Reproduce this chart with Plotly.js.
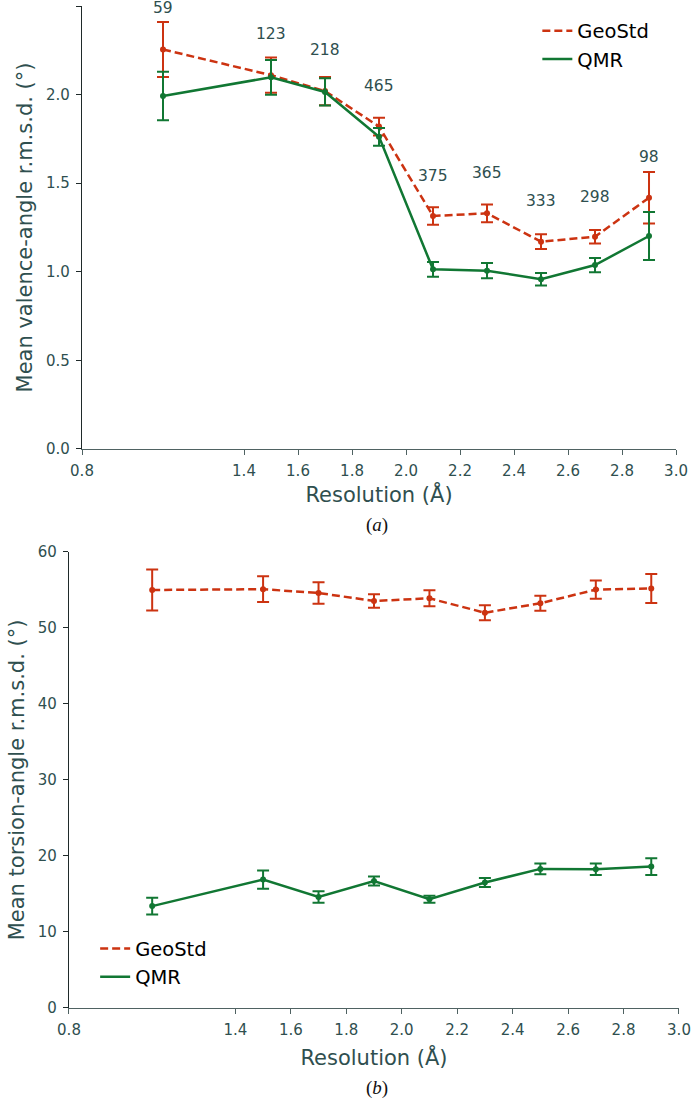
<!DOCTYPE html>
<html>
<head>
<meta charset="utf-8">
<script src="https://cdn.plot.ly/plotly-3.0.1.min.js"></script>
<style>
  html, body { margin: 0; padding: 0; background: #fff; }
  #chart { width: 692px; height: 1098px; }
</style>
</head>
<body>
<div id="chart"></div>
<script>
/* resolution bins shared by both panels */
const resolution = [1.1, 1.5, 1.7, 1.9, 2.1, 2.3, 2.5, 2.7, 2.9];
const xTickVals = [0.8, 1.4, 1.6, 1.8, 2.0, 2.2, 2.4, 2.6, 2.8, 3.0];
const xTickText = ['0.8', '1.4', '1.6', '1.8', '2.0', '2.2', '2.4', '2.6', '2.8', '3.0'];

/* (a) valence-angle r.m.s.d. */
const valGeoStd    = [2.255, 2.11, 2.02, 1.82, 1.315, 1.33, 1.17, 1.198, 1.418];
const valGeoStdErr = [0.155, 0.10, 0.08, 0.05, 0.05, 0.05, 0.042, 0.038, 0.145];
const valQMR       = [1.992, 2.098, 2.015, 1.762, 1.014, 1.006, 0.958, 1.038, 1.202];
const valQMRErr    = [0.137, 0.098, 0.077, 0.05, 0.042, 0.043, 0.035, 0.04, 0.135];
const pairCounts   = ['59', '123', '218', '465', '375', '365', '333', '298', '98'];
const countLabelY  = [2.49, 2.34, 2.25, 2.05, 1.54, 1.56, 1.40, 1.42, 1.65];

/* (b) torsion-angle r.m.s.d. */
const torGeoStd    = [55.0, 55.1, 54.6, 53.55, 53.9, 52.0, 53.25, 55.05, 55.2];
const torGeoStdErr = [2.7, 1.7, 1.4, 0.9, 1.05, 1.0, 1.0, 1.2, 1.9];
const torQMR       = [13.4, 16.9, 14.6, 16.7, 14.3, 16.5, 18.3, 18.25, 18.6];
const torQMRErr    = [1.1, 1.2, 0.75, 0.6, 0.45, 0.6, 0.7, 0.75, 1.1];

const RED = '#cc3311';
const GREEN = '#117733';
const SLATE = '#2f4f4f';
const FONT = 'DejaVu Sans, sans-serif';

// the line trace carries the legend entry; dots + error bars sit on a second,
// legend-less trace so the legend shows a bare line
function series(x, y, err, name, color, dash, xa, ya, legend) {
  const group = name + ya;
  return [
    {
      x: x, y: y, name: name, type: 'scatter', mode: 'lines',
      xaxis: xa, yaxis: ya, legend: legend, legendgroup: group,
      line: { color: color, width: 2.5, dash: dash },
    },
    {
      x: x, y: y, name: name, type: 'scatter', mode: 'markers',
      xaxis: xa, yaxis: ya, legend: legend, legendgroup: group, showlegend: false,
      marker: { color: color, size: 6 },
      error_y: { type: 'data', array: err, visible: true, color: color, thickness: 2, width: 6 },
    },
  ];
}

const traces = [
  ...series(resolution, valGeoStd, valGeoStdErr, 'GeoStd', RED, '8px,4px', 'x', 'y', 'legend'),
  ...series(resolution, valQMR, valQMRErr, 'QMR', GREEN, 'solid', 'x', 'y', 'legend'),
  ...series(resolution, torGeoStd, torGeoStdErr, 'GeoStd', RED, '8px,4px', 'x2', 'y2', 'legend2'),
  ...series(resolution, torQMR, torQMRErr, 'QMR', GREEN, 'solid', 'x2', 'y2', 'legend2'),
];

const xAxisBase = {
  range: [0.8, 3.0],
  tickvals: xTickVals, ticktext: xTickText,
  ticks: 'outside', ticklen: 5, tickwidth: 1.2, tickcolor: '#4f6262',
  showline: true, linecolor: '#4f6262', linewidth: 1.2,
  showgrid: false, zeroline: false,
  tickfont: { family: FONT, size: 15, color: SLATE },
  ticklabelstandoff: 3,
};
const xTitle = (standoff) => ({ text: 'Resolution (Å)', font: { family: FONT, size: 21, color: SLATE }, standoff: standoff });

const yAxisBase = {
  ticks: 'outside', ticklen: 5, tickwidth: 1.2, tickcolor: '#1f2a2a',
  showline: true, linecolor: '#1f2a2a', linewidth: 1.2,
  showgrid: false, zeroline: false,
  tickfont: { family: FONT, size: 15, color: SLATE },
  ticklabelstandoff: 3,
};

const annotations = pairCounts.map((c, i) => ({
  x: resolution[i], y: countLabelY[i], xref: 'x', yref: 'y',
  text: c, showarrow: false,
  font: { family: FONT, size: 15.5, color: SLATE },
}));
annotations.push(
  { x: 0.5448, y: 0.5219, xref: 'paper', yref: 'paper', yanchor: 'middle', text: '(<i>a</i>)', showarrow: false,
    font: { family: 'Liberation Serif, serif', size: 19, color: '#111' } },
  { x: 0.5448, y: 0.0091, xref: 'paper', yref: 'paper', yanchor: 'middle', text: '(<i>b</i>)', showarrow: false,
    font: { family: 'Liberation Serif, serif', size: 19, color: '#111' } }
);

const legendBase = {
  xanchor: 'left', yanchor: 'top',
  bgcolor: 'rgba(0,0,0,0)', borderwidth: 0,
  tracegroupgap: 0,
  font: { family: FONT, size: 19.5, color: '#000' },
};

const layout = {
  width: 692, height: 1098,
  paper_bgcolor: '#fff', plot_bgcolor: '#fff',
  margin: { t: 0, r: 0, b: 0, l: 0 },
  font: { family: FONT, color: SLATE },
  xaxis: { ...xAxisBase, domain: [0.1185, 0.9769], anchor: 'y', title: xTitle(8) },
  yaxis: { ...yAxisBase, domain: [0.5911, 0.9945], anchor: 'x', range: [0, 2.5], dtick: 0.5, tickformat: '.1f',
    title: { text: 'Mean valence-angle r.m.s.d. (°)', font: { family: FONT, size: 21, color: SLATE }, standoff: 7 } },
  xaxis2: { ...xAxisBase, domain: [0.0997, 0.9812], anchor: 'y2', title: xTitle(12) },
  yaxis2: { ...yAxisBase, domain: [0.0820, 0.4973], anchor: 'x2', range: [0, 60], dtick: 10,
    title: { text: 'Mean torsion-angle r.m.s.d. (°)', font: { family: FONT, size: 21, color: SLATE }, standoff: 7 } },
  legend: { ...legendBase, x: 0.7765, y: 0.9895 },
  legend2: { ...legendBase, x: 0.1375, y: 0.1536 },
  annotations: annotations,
};

Plotly.newPlot('chart', traces, layout, { displayModeBar: false, responsive: false });
</script>
</body>
</html>
